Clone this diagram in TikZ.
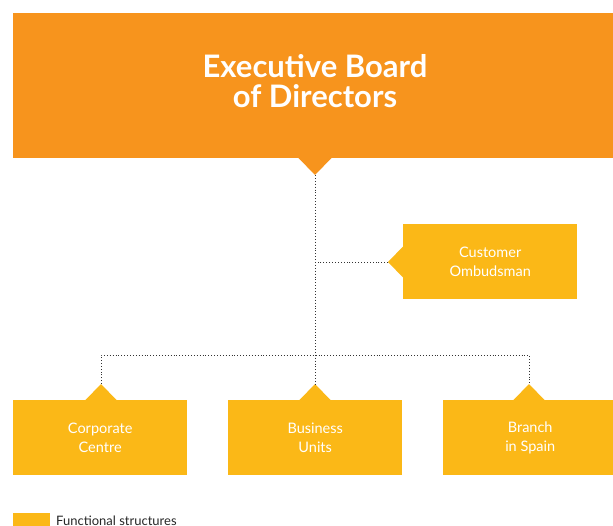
\documentclass[tikz,border=0pt]{standalone}
\usepackage{fontspec}
\setmainfont{Lato}
\newfontfamily\titlefont{Lato Black}
\definecolor{topor}{HTML}{F7941D}
\definecolor{boxor}{HTML}{FBB817}
\definecolor{dotc}{HTML}{333333}
\begin{document}
\begin{tikzpicture}[x=1pt,y=-1pt,
  unitbox/.style={fill=boxor,draw=none,minimum width=174pt,minimum height=75pt,inner sep=0pt,
    text=white,font=\fontsize{14.5}{19}\selectfont,align=center},
  link/.style={draw=dotc,dotted,line width=0.9pt},
  tip/.style={fill=boxor,draw=none}]
\useasboundingbox (0,0) rectangle (613,525);
\clip (0,0) rectangle (613,525);
% top board
\fill[topor] (13,13) rectangle (613,158);
\node[inner sep=0pt,text=white,font=\fontsize{31}{30}\selectfont\bfseries,align=center] (board) at (315,81)
  {Executive Board\\of Directors};
\fill[topor] (298,157.5) -- (315,175) -- (332,157.5) -- cycle;
\coordinate (boardtip) at (315,175);
% ombudsman
\node[unitbox,anchor=north west] (omb) at (403,224) {Customer\\Ombudsman};
\fill[boxor] (403.5,246) -- (388,262) -- (403.5,278) -- cycle;
\coordinate (ombtip) at (388,262);
% bottom units
\node[unitbox,anchor=north west] (corp) at (13,400) {Corporate\\Centre};
\node[unitbox,anchor=north west] (bus) at (228,400) {Business\\Units};
\node[unitbox,anchor=north west] (spain) at (443,400) {Branch\\in Spain};
\foreach \n/\cx in {corp/101,bus/315,spain/529}{
  \fill[boxor] (\cx-16,400.5) -- (\cx,384) -- (\cx+16,400.5) -- cycle;
  \coordinate (\n tip) at (\cx,384);
}
% connectors
\draw[link] (boardtip) -- (bustip);
\draw[link] (ombtip) -- (315,262);
\draw[link] (corptip) -- (101,355) -- (529,355) -- (spaintip);
% legend
\node[fill=boxor,minimum width=37pt,minimum height=14pt,inner sep=0pt,anchor=north west] (leg) at (13,513) {};
\node[anchor=west,font=\fontsize{13}{15}\selectfont,text=black!85,inner sep=0pt] (legtext) at (56,520.5) {Functional structures};
\end{tikzpicture}
\end{document}
